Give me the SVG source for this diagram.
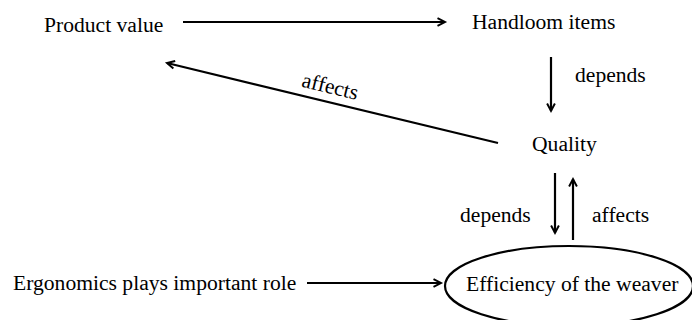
<svg xmlns="http://www.w3.org/2000/svg" width="692" height="320" viewBox="0 0 692 320">
<style>
text{font-family:"Liberation Serif","Times New Roman",serif;font-size:21.6px;fill:#000}
.c{stroke:#000;stroke-width:2.2;fill:none}
</style>
<defs>
<marker id="ah" viewBox="0 0 12 12" refX="11" refY="6" markerWidth="9" markerHeight="9" markerUnits="userSpaceOnUse" orient="auto" overflow="visible">
<path d="M1,0.8 L11,6 L1,11.2" fill="none" stroke="#000" stroke-width="2.6"/>
</marker>
</defs>
<rect width="692" height="320" fill="#fff"/>
<g id="product-value"><text x="44" y="32">Product value</text></g>
<g id="handloom-items"><text x="472" y="29">Handloom items</text></g>
<g id="quality"><text x="532" y="151">Quality</text></g>
<g id="ergonomics"><text x="13" y="290">Ergonomics plays important role</text></g>
<g id="efficiency">
<ellipse cx="569" cy="286" rx="124" ry="40" fill="none" stroke="#000" stroke-width="2.2"/>
<text x="466" y="291">Efficiency of the weaver</text>
</g>
<g id="connectors">
<line class="c" x1="183" y1="22" x2="445" y2="22" marker-end="url(#ah)"/>
<line class="c" x1="551" y1="57" x2="551" y2="111" marker-end="url(#ah)"/>
<text x="575" y="82">depends</text>
<line class="c" x1="498" y1="143" x2="167" y2="63" marker-end="url(#ah)"/>
<text x="300" y="93" transform="rotate(13.6 328 93)">affects</text>
<line class="c" x1="555" y1="173" x2="555" y2="233" marker-end="url(#ah)"/>
<text x="460" y="222">depends</text>
<line class="c" x1="573" y1="240" x2="573" y2="179" marker-end="url(#ah)"/>
<text x="592" y="222">affects</text>
<line class="c" x1="307" y1="283" x2="441" y2="283" marker-end="url(#ah)"/>
</g>
</svg>
